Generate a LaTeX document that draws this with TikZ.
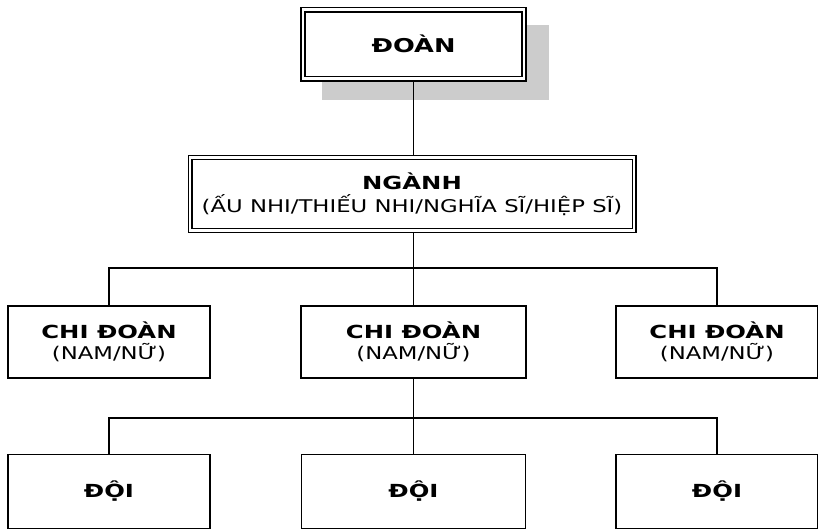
\documentclass[tikz,border=0pt]{standalone}
\usepackage{fontspec}
\setmainfont{DejaVu Sans}[FakeStretch=1.3, BoldFeatures={FakeStretch=1.35}]
\usetikzlibrary{backgrounds}
\tikzset{
  conn/.style={line width=1.7pt},
  dblbox/.style={draw, double, fill=white, inner sep=0pt, align=center},
  topbox/.style={dblbox, line width=1.7pt, double distance=2.6pt, minimum width=221pt, minimum height=69pt, font=\fontsize{19}{23}\selectfont\bfseries},
  nganhbox/.style={dblbox, line width=1.2pt, double distance=2.6pt, minimum width=444pt, minimum height=73pt, font=\fontsize{17.5}{23.5}\selectfont},
  chibox/.style={draw, fill=white, line width=2.2pt, minimum height=72pt, align=center, inner sep=0pt, font=\fontsize{17.5}{21.5}\selectfont},
  doibox/.style={draw, fill=white, line width=1.8pt, minimum height=74pt, inner sep=0pt, font=\fontsize{18}{21.5}\selectfont\bfseries},
  shadowfill/.style={fill=black!20, draw=none},
}
\newcommand{\bigbold}[1]{{\fontsize{18}{21.5}\selectfont\bfseries #1}}
\begin{document}
\begin{tikzpicture}[x=1pt,y=-1pt]
\useasboundingbox (0,0) rectangle (818,528);
% boxes
\node[topbox] (top) at (413.5,44) {ĐOÀN};
\node[nganhbox] (nganh) at (412,194) {\bigbold{NGÀNH}\\(ẤU NHI/THIẾU NHI/NGHĨA SĨ/HIỆP SĨ)};
\node[chibox, minimum width=202pt] (chi1) at (109,342) {\bigbold{CHI ĐOÀN}\\(NAM/NỮ)};
\node[chibox, minimum width=225pt] (chi2) at (413.5,342) {\bigbold{CHI ĐOÀN}\\(NAM/NỮ)};
\node[chibox, minimum width=202pt] (chi3) at (717,342) {\bigbold{CHI ĐOÀN}\\(NAM/NỮ)};
\node[doibox, minimum width=202pt] (doi1) at (109,491.5) {ĐỘI};
\node[doibox, minimum width=224pt] (doi2) at (413.5,491.5) {ĐỘI};
\node[doibox, minimum width=202pt] (doi3) at (717,491.5) {ĐỘI};
% shadow and connectors behind boxes
\begin{scope}[on background layer]
\fill[shadowfill] (322,25) rectangle (549,100);
\coordinate (bus1) at (413.5,268);
\coordinate (bus2) at (413.5,418);
\draw[conn] (top.south) -- (top.south |- nganh.north);
\draw[conn] (bus1 |- nganh.south) -- (bus1);
\draw[conn] (chi1.north) |- (bus1) -| (chi3.north);
\draw[conn] (bus1) -- (chi2.north);
\draw[conn] (chi2.south) -- (bus2);
\draw[conn] (doi1.north) |- (bus2) -| (doi3.north);
\draw[conn] (bus2) -- (doi2.north);
\end{scope}
\end{tikzpicture}
\end{document}
